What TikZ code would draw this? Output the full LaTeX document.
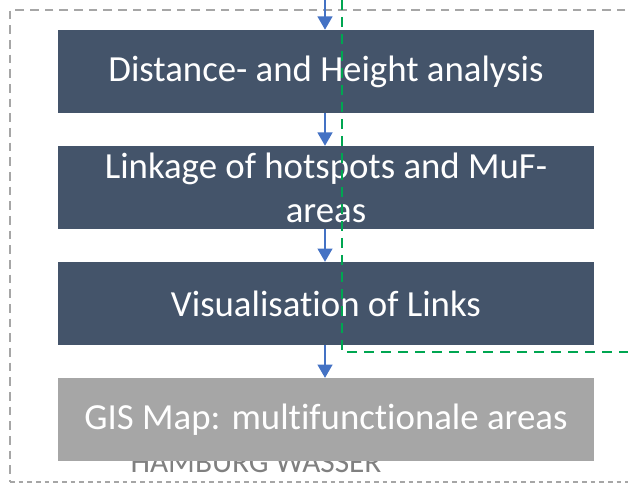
\documentclass[tikz,border=0pt]{standalone}
\usepackage{fontspec}
\setmainfont{Carlito}[Ligatures={NoCommon}]
\usetikzlibrary{positioning,arrows.meta}
\definecolor{slate}{HTML}{44546A}
\definecolor{flowblue}{HTML}{4472C4}
\definecolor{outgreen}{HTML}{00A651}
\definecolor{framegray}{HTML}{A6A6A6}

\begin{document}
\begin{tikzpicture}[x=0.75pt, y=-0.75pt, node distance={24.4pt},
    main/.style={fill=slate, text=white, minimum width=402pt, minimum height=62.25pt, inner sep=0pt, align=center, font=\fontsize{27.6}{33}\selectfont},
    result/.style={main, fill=framegray},
    flow/.style={flowblue, line width=1.8pt, -{Triangle[width=11pt,length=10pt]}},
    frame/.style={framegray, line width=2pt, dash pattern=on 6.5pt off 4.5pt},
    border/.style={outgreen, line width=2pt, dash pattern=on 7.5pt off 5.25pt}]
		\useasboundingbox (0,0) rectangle (628,484);

		% outer frame
		\draw[frame] (640,10) -| (10,482);
		\draw[frame, line width=1.2pt, dash pattern=on 3.5pt off 3pt] (10,482) -- (640,482);

		\node[text=gray, anchor=base, font=\fontsize{23.5}{28}\selectfont] (logo) at (256,472) {HAMBURG WASSER};

		\node[main] (1) at (326,71.5) {Distance- and Height analysis};
		\node[main] (2) [below=of 1] {Linkage of hotspots and MuF-\\areas};
		\node[main] (3) [below=of 2] {Visualisation of Links};
		\node[result] (4) [below=of 3] {GIS Map: multifunctionale areas};

		\coordinate (in) at (325,0);
		\draw[flow] (in) -- (in |- 1.north);
		\draw[flow] (in |- 1.south) -- (in |- 2.north);
		\draw[flow] (in |- 2.south) -- (in |- 3.north);
		\draw[flow] (in |- 3.south) -- (in |- 4.north);

		% system boundary
		\coordinate (g1) at (342,0);
		\coordinate (g2) at (342,352);
		\coordinate (g3) at (640,352);
		\draw[border] (g1) -- (g2) -- (g3);
	\end{tikzpicture}
\end{document}
